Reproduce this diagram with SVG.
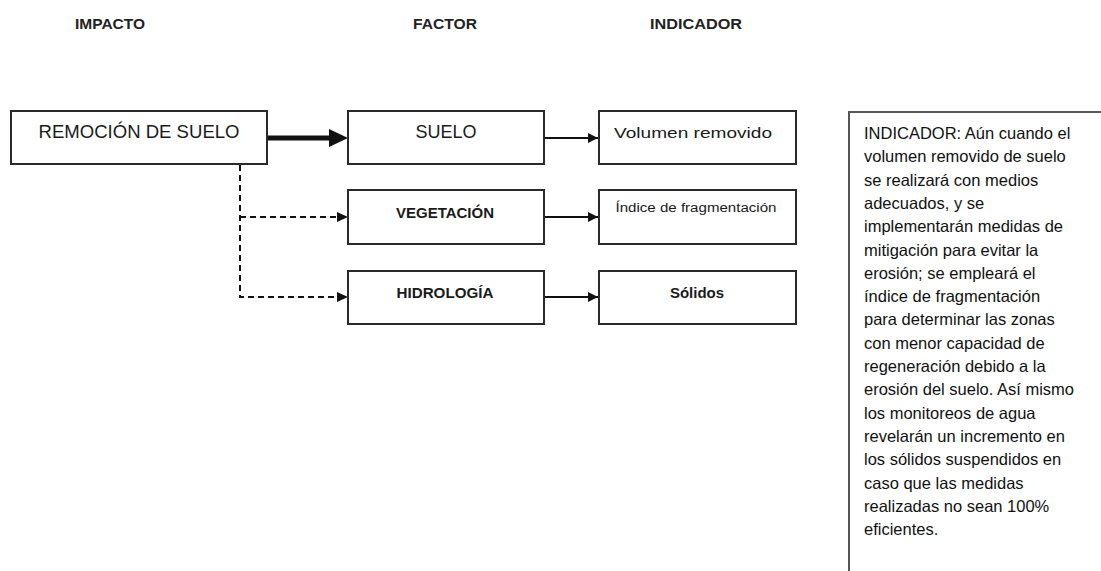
<svg xmlns="http://www.w3.org/2000/svg" width="1101" height="571" viewBox="0 0 1101 571">
<style>
.box{fill:#fff;stroke:#2a2a2a;stroke-width:2}
.hdr{font-family:"Liberation Sans",Arial,sans-serif;font-weight:bold;font-size:14px;fill:#222}
.lbl{font-family:"Liberation Sans",Arial,sans-serif;fill:#1a1a1a;text-anchor:middle}
.note{font-family:"Liberation Sans",Arial,sans-serif;font-size:16.5px;fill:#111}
.thin{stroke:#111;stroke-width:2;fill:none}
.dash{stroke:#111;stroke-width:2;fill:none;stroke-dasharray:6 4}
</style>
<defs>
<marker id="ah" viewBox="0 0 10 10" refX="10" refY="5" markerWidth="5" markerHeight="5" orient="auto" markerUnits="strokeWidth"><path d="M0,0 L10,5 L0,10 z" fill="#111"/></marker>
</defs>
<rect width="1101" height="571" fill="#fff"/>
<g id="headers">
<text class="hdr" x="75" y="29" textLength="70" lengthAdjust="spacingAndGlyphs">IMPACTO</text>
<text class="hdr" x="413" y="29" textLength="64" lengthAdjust="spacingAndGlyphs">FACTOR</text>
<text class="hdr" x="650" y="29" textLength="92" lengthAdjust="spacingAndGlyphs">INDICADOR</text>
</g>
<g id="connectors">
<line x1="267" y1="138" x2="331" y2="138" stroke="#111" stroke-width="5"/>
<path d="M329,129 L348,138 L329,147 z" fill="#111"/>
<polyline class="dash" points="240,165 240,297 337,297"/>
<line class="dash" x1="240" y1="217" x2="337" y2="217"/>
<path d="M337,212 L348,217 L337,222 z" fill="#111"/>
<path d="M337,292 L348,297 L337,302 z" fill="#111"/>
<line class="thin" x1="544" y1="138" x2="598" y2="138" marker-end="url(#ah)"/>
<line class="thin" x1="544" y1="217" x2="598" y2="217" marker-end="url(#ah)"/>
<line class="thin" x1="544" y1="297" x2="598" y2="297" marker-end="url(#ah)"/>
</g>
<g id="remocion">
<rect class="box" x="11" y="111" width="256" height="53"/>
<text class="lbl" x="139" y="138" font-size="18" textLength="201" lengthAdjust="spacingAndGlyphs">REMOCIÓN DE SUELO</text>
</g>
<g id="suelo">
<rect class="box" x="348" y="111" width="196" height="53"/>
<text class="lbl" x="446" y="138" font-size="18">SUELO</text>
</g>
<g id="vegetacion">
<rect class="box" x="348" y="190" width="196" height="54"/>
<text class="lbl" x="445" y="218" font-size="15" font-weight="bold">VEGETACIÓN</text>
</g>
<g id="hidrologia">
<rect class="box" x="348" y="271" width="196" height="53"/>
<text class="lbl" x="445" y="298" font-size="15" font-weight="bold" textLength="97" lengthAdjust="spacingAndGlyphs">HIDROLOGÍA</text>
</g>
<g id="volumen">
<rect class="box" x="599" y="111" width="197" height="53"/>
<text class="lbl" x="693" y="138" font-size="14" textLength="158" lengthAdjust="spacingAndGlyphs">Volumen removido</text>
</g>
<g id="indice">
<rect class="box" x="599" y="190" width="197" height="54"/>
<text class="lbl" x="696" y="212" font-size="12" textLength="161" lengthAdjust="spacingAndGlyphs">Índice de fragmentación</text>
</g>
<g id="solidos">
<rect class="box" x="599" y="271" width="197" height="53"/>
<text class="lbl" x="697" y="298" font-size="15" font-weight="bold">Sólidos</text>
</g>
<g id="nota">
<rect x="849" y="112" width="270" height="480" fill="#fff" stroke="#555" stroke-width="2"/>
<text class="note">
<tspan x="864" y="139">INDICADOR: Aún cuando el</tspan>
<tspan x="864" y="162.3">volumen removido de suelo</tspan>
<tspan x="864" y="185.6">se realizará con medios</tspan>
<tspan x="864" y="208.9">adecuados, y se</tspan>
<tspan x="864" y="232.2">implementarán medidas de</tspan>
<tspan x="864" y="255.5">mitigación para evitar la</tspan>
<tspan x="864" y="278.8">erosión; se empleará el</tspan>
<tspan x="864" y="302.1">índice de fragmentación</tspan>
<tspan x="864" y="325.4">para determinar las zonas</tspan>
<tspan x="864" y="348.7">con menor capacidad de</tspan>
<tspan x="864" y="372">regeneración debido a la</tspan>
<tspan x="864" y="395.3">erosión del suelo. Así mismo</tspan>
<tspan x="864" y="418.6">los monitoreos de agua</tspan>
<tspan x="864" y="441.9">revelarán un incremento en</tspan>
<tspan x="864" y="465.2">los sólidos suspendidos en</tspan>
<tspan x="864" y="488.5">caso que las medidas</tspan>
<tspan x="864" y="511.8">realizadas no sean 100%</tspan>
<tspan x="864" y="535.1">eficientes.</tspan>
</text>
</g>
</svg>
